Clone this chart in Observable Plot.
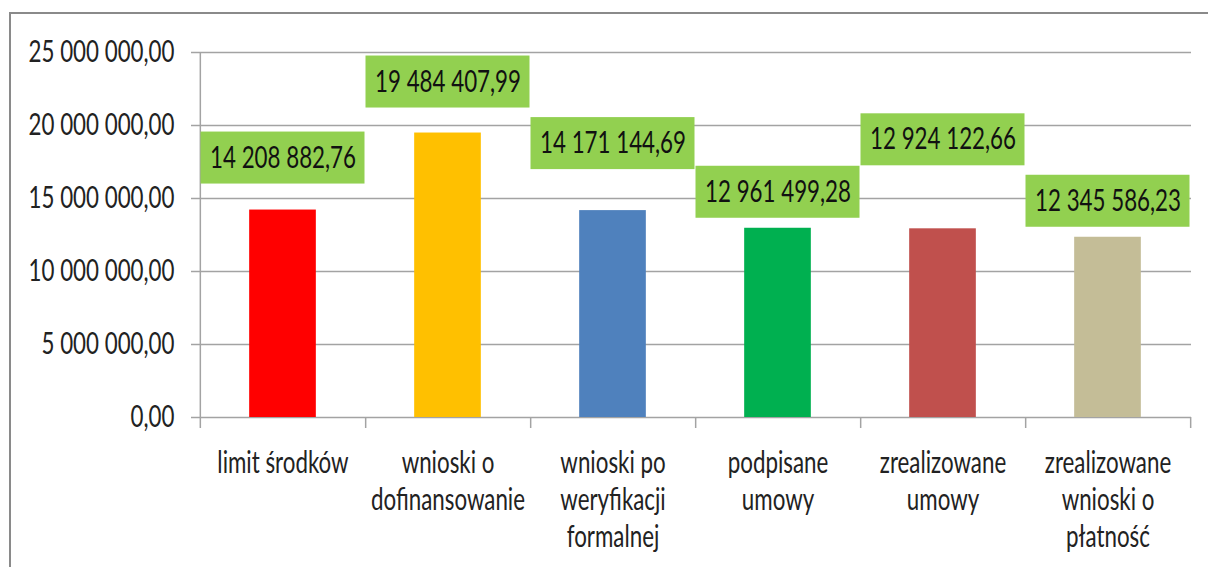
<!DOCTYPE html>
<html>
<head>
<meta charset="utf-8">
<script src="https://cdn.jsdelivr.net/npm/d3@7"></script>
<script src="https://cdn.jsdelivr.net/npm/@observablehq/plot@0.6"></script>
<style>
  html, body { margin: 0; padding: 0; background: #fff; overflow: hidden; }
  #wrap { position: relative; width: 1208px; height: 567px; overflow: hidden; }
  #frame { position: absolute; left: 9px; top: 12px; width: 1400px; height: 800px;
           border: 2px solid #8a8a8a; box-sizing: border-box; pointer-events: none; }
  #chart { position: absolute; left: 0; top: 0; }
</style>
</head>
<body>
<div id="wrap"><div id="frame"></div><div id="chart"></div></div>
<script>
// ---- data ----
const categories = [
  "limit środków",
  "wnioski o\ndofinansowanie",
  "wnioski po\nweryfikacji\nformalnej",
  "podpisane\numowy",
  "zrealizowane\numowy",
  "zrealizowane\nwnioski o\npłatność"
];
const values = [14208882.76, 19484407.99, 14171144.69, 12961499.28, 12924122.66, 12345586.23];
const barColors = ["#FF0000", "#FFC000", "#4F81BD", "#00B050", "#C0504D", "#C4BD97"];
const yTicks = [0, 5000000, 10000000, 15000000, 20000000, 25000000];
// label box gap above each bar (px) – layout only
const labelGap = [26, 25, 41, 10, 63, 10];

// ---- layout ----
const W = 1208, H = 567;
const mL = 199, mR = 17, mT = 52, mB = 150;
const bw = (W - mL - mR) / categories.length;
const barInset = (bw - 67) / 2;
const boxH = 52;
const fs = 30;
const font = "Lato, 'Open Sans', sans-serif";

const pl = d3.formatLocale({decimal: ",", thousands: "\u00a0", grouping: [3], currency: ["", ""]});
const fmt = pl.format(",.2f");

const data = categories.map((c, i) => ({cat: c, value: values[i], color: barColors[i], gap: labelGap[i]}));
const yMax = yTicks[yTicks.length - 1];

const marks = [
  // gridlines (extend left as tick marks)
  Plot.ruleY(yTicks, {stroke: "#a3a3a3", strokeWidth: 1.5, insetLeft: -8}),
  // left axis line
  Plot.ruleX([categories[0]], {dx: -bw / 2, y1: yMax, y2: 0, insetBottom: -11, stroke: "#a3a3a3", strokeWidth: 1.5}),
  // category boundary ticks
  Plot.ruleX(categories, {dx: bw / 2, y1: 0, y2: 0, insetBottom: -11, stroke: "#a3a3a3", strokeWidth: 1.5}),
  // bars
  Plot.barY(data, {x: "cat", y: "value", fill: "color", insetLeft: barInset, insetRight: barInset}),
  // label boxes and texts
  ...data.map(d => Plot.barY([d], {
    x: "cat", y1: "value", y2: "value", fill: "#92D050",
    insetLeft: 0.5, insetRight: 0.5,
    insetTop: -(d.gap + boxH), insetBottom: d.gap
  })),
  ...data.map(d => Plot.text([d], {
    x: "cat", y: "value", text: v => fmt(v.value),
    dy: -(d.gap + boxH / 2), fill: "#111", fontSize: fs
  })),
  // category labels
  Plot.text(data, {
    x: "cat", y: 0, text: "cat", dy: 29, lineAnchor: "top", lineHeight: 1.233,
    fill: "#222", fontSize: fs
  })
];

const chart = Plot.plot({
  width: W, height: H,
  marginLeft: mL, marginRight: mR, marginTop: mT, marginBottom: mB,
  style: {fontFamily: font, fontSize: fs + "px", background: "transparent", color: "#222"},
  x: {domain: categories, padding: 0, axis: null},
  y: {domain: [0, yMax], ticks: yTicks, tickFormat: fmt, tickSize: 0, tickPadding: 25, label: null},
  color: {type: "identity"},
  marks
});
document.getElementById("chart").appendChild(chart);

// Narrow the type horizontally (reference uses a condensed face)
const texts = Array.from(chart.querySelectorAll("text"));
const refText = texts.find(t => t.textContent === fmt(yMax));
let sx = 0.75;
if (refText) {
  const w = refText.getBBox().width;
  if (w > 0) sx = 146 / w;
}
for (const t of texts) {
  const ax = parseFloat(t.getAttribute("x")) || 0;
  const ay = parseFloat(t.getAttribute("y")) || 0;
  const prev = t.getAttribute("transform") || "";
  t.setAttribute("transform", `${prev} translate(${ax},${ay}) scale(${sx},1) translate(${-ax},${-ay})`);
}
</script>
</body>
</html>
